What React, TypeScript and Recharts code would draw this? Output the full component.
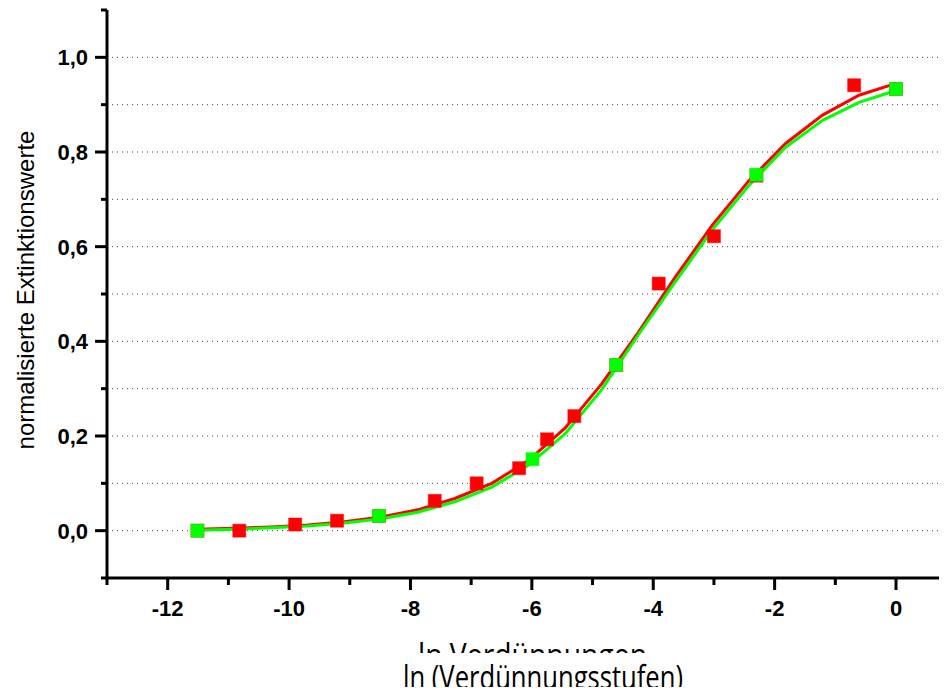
import React from 'react';
import { ComposedChart, Line, Scatter, XAxis, YAxis, CartesianGrid } from 'recharts';

const fitX = [-11.51, -10.9, -10.3, -9.69, -9.09, -8.48, -7.88, -7.27, -6.66, -6.06, -5.45, -4.85, -4.24, -3.64, -3.03, -2.42, -1.82, -1.21, -0.61, 0];
const redFitY = [0.003, 0.005, 0.008, 0.012, 0.019, 0.029, 0.044, 0.068, 0.1, 0.148, 0.217, 0.31, 0.42, 0.535, 0.645, 0.74, 0.818, 0.878, 0.92, 0.945];
const greenFitY = [0.001, 0.003, 0.006, 0.01, 0.016, 0.025, 0.039, 0.061, 0.092, 0.138, 0.205, 0.298, 0.415, 0.525, 0.635, 0.73, 0.81, 0.867, 0.905, 0.93];

const redX = [-11.51, -10.82, -9.9, -9.21, -8.52, -7.6, -6.91, -6.21, -5.75, -5.3, -4.61, -3.91, -3.0, -2.3, -0.69, 0];
const redY = [0.0, 0.0, 0.013, 0.021, 0.031, 0.063, 0.1, 0.132, 0.193, 0.242, 0.35, 0.522, 0.622, 0.75, 0.941, 0.933];
const greenX = [-11.51, -8.52, -5.99, -4.61, -2.3, 0];
const greenY = [0.0, 0.031, 0.151, 0.35, 0.752, 0.933];

const xTicks = [-13, -12, -11, -10, -9, -8, -7, -6, -5, -4, -3, -2, -1, 0];
const yTicks = [-0.1, 0, 0.1, 0.2, 0.3, 0.4, 0.5, 0.6, 0.7, 0.8, 0.9, 1.0, 1.1];
const gridValues = [0, 0.1, 0.2, 0.3, 0.4, 0.5, 0.6, 0.7, 0.8, 0.9, 1.0];

const yTitle = 'normalisierte Extinktionswerte';
const xTitle1 = 'ln Verdünnungen';
const xTitle2 = 'ln (Verdünnungsstufen)';

const redFit = fitX.map((x, i) => ({ x, y: redFitY[i] }));
const greenFit = fitX.map((x, i) => ({ x, y: greenFitY[i] }));
const redPts = redX.map((x, i) => ({ x, y: redY[i] }));
const greenPts = greenX.map((x, i) => ({ x, y: greenY[i] }));

const RED = '#ff0000';
const GREEN = '#00ff00';

const XTick = (props: any) => {
  const { x, y, payload } = props;
  const v = payload.value;
  const major = Math.round(v) % 2 === 0;
  return (
    <g>
      <line x1={x} y1={y} x2={x} y2={y + (major ? 12 : 7)} stroke="#000" strokeWidth={3} />
      {major && (
        <text x={x} y={y + 38} textAnchor="middle" fontFamily="'Liberation Sans', Arial, sans-serif" fontWeight="bold" fontSize={22} fill="#000">
          {String(v)}
        </text>
      )}
    </g>
  );
};

const YTick = (props: any) => {
  const { x, y, payload } = props;
  const v = payload.value;
  const major = Math.round(v * 10) % 2 === 0 && v >= 0;
  return (
    <g>
      <line x1={x} y1={y} x2={x - (major ? 12 : 6)} y2={y} stroke="#000" strokeWidth={3} />
      {major && (
        <text x={x - 19} y={y} dy="0.36em" textAnchor="end" fontFamily="'Liberation Sans', Arial, sans-serif" fontWeight="bold" fontSize={22} fill="#000">
          {v.toFixed(1).replace('.', ',')}
        </text>
      )}
    </g>
  );
};

const makeSquare = (color: string) => (props: any) => {
  const { cx, cy } = props;
  if (cx == null || cy == null) return <g />;
  return <rect x={cx - 6.5} y={cy - 6.5} width={13} height={13} fill={color} stroke={color} strokeOpacity={0.5} strokeWidth={1} />;
};

const RedSquare = makeSquare(RED);
const GreenSquare = makeSquare(GREEN);

export default function App() {
  return (
    <div style={{ position: 'relative', width: 939, height: 687, marginBottom: -8 }}>
      <ComposedChart width={939} height={687} margin={{ top: 2, right: 0, bottom: 77, left: 39 }}>
        <CartesianGrid vertical={false} horizontalValues={gridValues} stroke="#444" strokeDasharray="1 4" strokeWidth={1} />
        <XAxis
          type="number"
          dataKey="x"
          domain={[-13, 0.84]}
          allowDataOverflow
          ticks={xTicks}
          interval={0}
          tickSize={0}
          tickMargin={0}
          tickLine={false}
          tick={<XTick />}
          axisLine={{ stroke: '#000', strokeWidth: 3 }}
          height={40}
        />
        <YAxis
          type="number"
          dataKey="y"
          domain={[-0.1, 1.1]}
          allowDataOverflow
          ticks={yTicks}
          interval={0}
          tickSize={0}
          tickMargin={0}
          tickLine={false}
          tick={<YTick />}
          axisLine={{ stroke: '#000', strokeWidth: 3 }}
          width={60}
        />
        <Scatter data={redPts} dataKey="y" shape={RedSquare} isAnimationActive={false} />
        <Line data={redFit} dataKey="y" type="linear" stroke={RED} strokeWidth={3} dot={false} activeDot={false} isAnimationActive={false} />
        <Line data={greenFit} dataKey="y" type="linear" stroke={GREEN} strokeWidth={3} dot={false} activeDot={false} isAnimationActive={false} />
        <Scatter data={greenPts} dataKey="y" shape={GreenSquare} isAnimationActive={false} />
      </ComposedChart>
      <svg
        width={939}
        height={687}
        style={{ position: 'absolute', left: 0, top: 0, overflow: 'visible', pointerEvents: 'none' }}
      >
        <defs>
          <clipPath id="clipTitle1">
            <rect x={0} y={600} width={939} height={45} />
          </clipPath>
        </defs>
        <text
          transform="translate(17,282) rotate(-90)"
          textAnchor="middle"
          dominantBaseline="central"
          fontFamily="'Liberation Sans', Arial, sans-serif"
          fontSize={24}
          fill="#000"
        >
          {yTitle}
        </text>
        <g clipPath="url(#clipTitle1)">
          <text x={410} y={659} textLength={229} lengthAdjust="spacingAndGlyphs" fontFamily="'Open Sans', sans-serif" fontSize={32} fill="#000">
            {xTitle1}
          </text>
        </g>
        <text x={395} y={681} textLength={280} lengthAdjust="spacingAndGlyphs" fontFamily="'Open Sans', sans-serif" fontSize={32} fill="#000">
          {xTitle2}
        </text>
      </svg>
    </div>
  );
}
